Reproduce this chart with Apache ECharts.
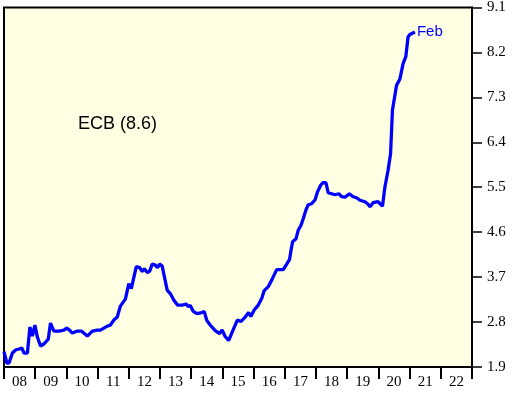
<!DOCTYPE html>
<html>
<head>
<meta charset="utf-8">
<script src="https://cdn.jsdelivr.net/npm/echarts@6/dist/echarts.min.js"></script>
<style>
  html, body { margin: 0; padding: 0; background: #fff; }
  #chart { width: 521px; height: 398px; }
</style>
</head>
<body>
<div id="chart"></div>
<script>
// year labels along the bottom
var years = ['08', '09', '10', '11', '12', '13', '14', '15', '16', '17', '18', '19', '20', '21', '22'];

// ECB balance sheet, decimal year -> value
var dates = [
  2008.00, 2008.09, 2008.16, 2008.27, 2008.37, 2008.48, 2008.57, 2008.64, 2008.75, 2008.83,
  2008.91, 2008.99, 2009.07, 2009.17, 2009.28, 2009.42, 2009.49, 2009.60, 2009.76, 2009.92,
  2010.01, 2010.10, 2010.19, 2010.35, 2010.48, 2010.67, 2010.83, 2010.99, 2011.09, 2011.31,
  2011.41, 2011.52, 2011.63, 2011.73, 2011.89, 2012.00, 2012.08, 2012.24, 2012.35, 2012.43,
  2012.50, 2012.59, 2012.67, 2012.75, 2012.85, 2012.92, 2012.99, 2013.07, 2013.23, 2013.33,
  2013.44, 2013.56, 2013.71, 2013.84, 2013.90, 2013.97, 2014.06, 2014.18, 2014.34, 2014.42,
  2014.50, 2014.61, 2014.77, 2014.91, 2014.99, 2015.09, 2015.20, 2015.34, 2015.48, 2015.59,
  2015.73, 2015.84, 2015.91, 2016.02, 2016.15, 2016.26, 2016.34, 2016.47, 2016.58, 2016.74,
  2016.95, 2017.04, 2017.15, 2017.20, 2017.25, 2017.36, 2017.43, 2017.52, 2017.59, 2017.68,
  2017.75, 2017.86, 2017.97, 2018.05, 2018.15, 2018.22, 2018.32, 2018.39, 2018.50, 2018.61,
  2018.66, 2018.73, 2018.82, 2018.93, 2019.07, 2019.19, 2019.30, 2019.41, 2019.46, 2019.57,
  2019.67, 2019.73, 2019.83, 2019.99, 2020.13, 2020.21, 2020.31, 2020.39, 2020.45, 2020.58,
  2020.69, 2020.79, 2020.88, 2020.95, 2021.01, 2021.07, 2021.17
];
var values = [
  2.21, 1.98, 1.98, 2.18, 2.24, 2.26, 2.28, 2.18, 2.18, 2.70,
  2.52, 2.74, 2.50, 2.32, 2.36, 2.46, 2.78, 2.62, 2.62, 2.64,
  2.68, 2.64, 2.58, 2.62, 2.62, 2.52, 2.62, 2.64, 2.64, 2.72,
  2.74, 2.84, 2.90, 3.12, 3.26, 3.57, 3.47, 3.91, 3.89, 3.81,
  3.87, 3.79, 3.82, 3.96, 3.94, 3.89, 3.96, 3.92, 3.44, 3.37,
  3.24, 3.14, 3.14, 3.16, 3.11, 3.13, 3.02, 2.97, 2.99, 3.01,
  2.83, 2.74, 2.63, 2.57, 2.64, 2.51, 2.43, 2.64, 2.84, 2.81,
  2.90, 2.99, 2.91, 3.04, 3.14, 3.27, 3.43, 3.51, 3.64, 3.85,
  3.85, 3.94, 4.05, 4.24, 4.41, 4.47, 4.64, 4.74, 4.87, 5.05,
  5.15, 5.17, 5.25, 5.41, 5.54, 5.59, 5.59, 5.39, 5.37, 5.35,
  5.38, 5.37, 5.31, 5.30, 5.37, 5.31, 5.29, 5.24, 5.27, 5.21,
  5.16, 5.11, 5.19, 5.21, 5.12, 5.51, 5.84, 6.17, 7.04, 7.54,
  7.67, 7.97, 8.12, 8.51, 8.56, 8.58, 8.61
];

var serif = '"Liberation Serif", "DejaVu Serif", serif';
var sans = '"Liberation Sans", Arial, sans-serif';

var points = dates.map(function (d, i) { return [d, values[i]]; });

var chart = echarts.init(document.getElementById('chart'));

chart.setOption({
  animation: false,
  grid: {
    left: 4, right: 49, top: 7, bottom: 31,
    show: true,
    backgroundColor: '#FFFFE3',
    borderColor: '#000',
    borderWidth: 2
  },
  xAxis: [{
    type: 'category',
    data: years,
    boundaryGap: true,
    axisLine: { lineStyle: { color: '#000', width: 2 } },
    axisTick: { show: true, length: 12, lineStyle: { color: '#000', width: 2 } },
    axisLabel: { color: '#000', fontFamily: serif, fontSize: 15, margin: 8, interval: 0 },
    splitLine: { show: false }
  }, {
    type: 'value',
    min: 2008,
    max: 2023,
    show: false,
    splitLine: { show: false }
  }],
  yAxis: {
    type: 'value',
    position: 'right',
    min: 1.9,
    max: 9.1,
    interval: 0.9,
    axisLine: { show: true, lineStyle: { color: '#000', width: 2 } },
    axisTick: { show: true, length: 10, lineStyle: { color: '#000', width: 1.5 } },
    axisLabel: {
      color: '#000', fontFamily: serif, fontSize: 15, margin: 15,
      formatter: function (v) { return v.toFixed(1); }
    },
    splitLine: { show: false }
  },
  graphic: [{
    type: 'text',
    left: 78,
    top: 115,
    style: { text: 'ECB (8.6)', fill: '#000', font: '18px ' + sans }
  }],
  series: [{
    type: 'line',
    xAxisIndex: 1,
    data: points,
    showSymbol: false,
    lineStyle: { color: '#0000FF', width: 3.3 },
    itemStyle: { color: '#0000FF' },
    endLabel: {
      show: true,
      formatter: 'Feb',
      color: '#0000FF',
      fontFamily: sans,
      fontSize: 15,
      distance: 2
    }
  }]
});
</script>
</body>
</html>
